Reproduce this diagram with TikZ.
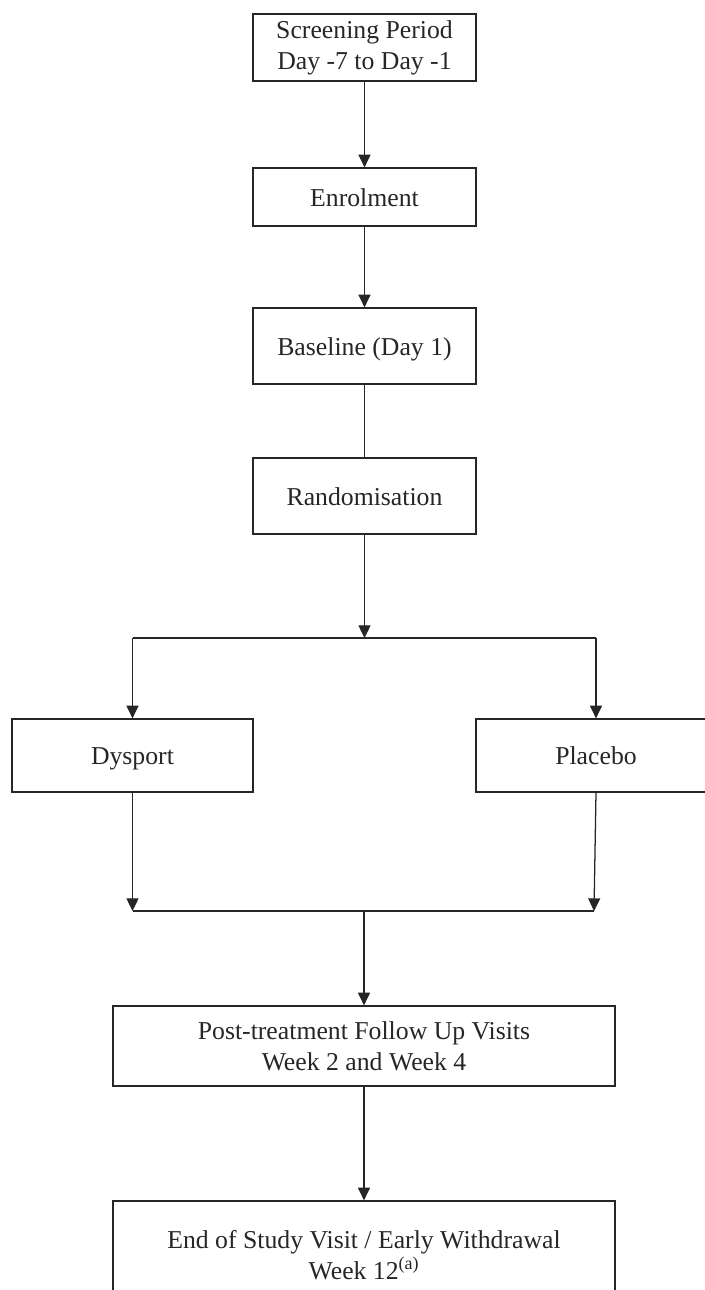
\documentclass[tikz,border=0pt]{standalone}
\usepackage{fontspec}
\setmainfont{Liberation Serif}
\usetikzlibrary{arrows.meta}
\definecolor{ink}{HTML}{262626}
\begin{document}
\begin{tikzpicture}[x=0.75pt,y=-0.75pt,
  box/.style={draw=ink, line width=0.95pt, rectangle, inner sep=0pt, align=center,
    text=ink, font=\fontsize{19.3}{23.2}\selectfont},
  single/.style={text height=16pt, text depth=2pt},
  conn/.style={draw=ink, line width=0.95pt},
  arr/.style={conn, -{Triangle[length=9.5pt,width=9pt]}}]
\useasboundingbox (0,0) rectangle (704,1290);
\node[box, minimum width=167.25pt, minimum height=50.25pt] (scr) at (364.5,47.5) {Screening Period\\Day -7 to Day -1};
\node[box, single, minimum width=167.25pt, minimum height=43.5pt] (enr) at (364.5,197) {Enrolment};
\node[box, single, minimum width=167.25pt, minimum height=57pt] (base) at (364.5,346) {Baseline (Day 1)};
\node[box, single, minimum width=167.25pt, minimum height=57pt] (rand) at (364.5,496) {Randomisation};
\node[box, single, minimum width=180.75pt, minimum height=54.75pt] (dys) at (132.5,755.5) {Dysport};
\node[box, single, minimum width=180pt, minimum height=54.75pt] (pla) at (596,755.5) {Placebo};
\node[box, minimum width=376.5pt, minimum height=60pt] (post) at (364,1046) {Post-treatment Follow Up Visits\\Week 2 and Week 4};
\node[box, minimum width=376.5pt, minimum height=81pt] (end) at (364,1255) {End of Study Visit / Early Withdrawal\\Week 12\textsuperscript{(a)}};
\coordinate (j1) at (364.5,638);
\coordinate (jl) at (132.5,638);
\coordinate (jr) at (596,638);
\coordinate (m1) at (364,911);
\coordinate (ml) at (132.5,911);
\coordinate (mr) at (594,911);
\draw[arr] (scr.south) -- (enr.north);
\draw[arr] (enr.south) -- (base.north);
\draw[conn] (base.south) -- (rand.north);
\draw[arr] (rand.south) -- (j1);
\draw[conn] (jl) -- (jr);
\draw[arr] (jl) -- (dys.north);
\draw[arr] (jr) -- (pla.north);
\draw[arr] (dys.south) -- (ml);
\draw[arr] (pla.south) -- (mr);
\draw[conn] (ml) -- (mr);
\draw[arr] (m1) -- (post.north);
\draw[arr] (post.south) -- (end.north);
\end{tikzpicture}
\end{document}
